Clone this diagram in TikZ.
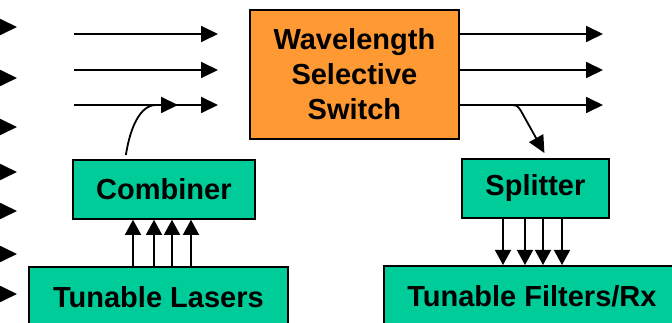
\documentclass[tikz,border=0pt]{standalone}
\usepackage{fontspec}
\setmainfont{Liberation Sans}
\usetikzlibrary{arrows.meta}
\definecolor{boxgreen}{HTML}{00CC99}
\definecolor{boxorange}{HTML}{FF9933}
\begin{document}
\begin{tikzpicture}[x=1pt,y=-1pt,
  box/.style={draw=black,line width=1.8pt,inner sep=0pt,anchor=north west,
    font=\fontsize{29}{35}\selectfont\bfseries,align=center},
  bigarrow/.style={line width=1.8pt,-{Triangle[length=17pt,width=16pt]}},
  smallarrow/.style={line width=1.4pt,-{Triangle[length=15pt,width=16pt]}}]
\useasboundingbox (0,0) rectangle (672,323);
\clip (0,0) rectangle (672,323);

% boxes
\node[box,fill=boxorange,minimum width=209pt,minimum height=129pt] (wss) at (249,9)
  {Wavelength\\Selective\\Switch};
\node[box,fill=boxgreen,minimum width=182pt,minimum height=59pt] (combiner) at (72,159) {Combiner};
\node[box,fill=boxgreen,minimum width=259pt,minimum height=60pt] (lasers) at (28,266) {Tunable Lasers};
\node[box,fill=boxgreen,minimum width=147pt,minimum height=59pt] (splitter) at (461,158) {Splitter};
\node[box,fill=boxgreen,minimum width=296pt,minimum height=60pt] (filters) at (383,265) {Tunable Filters/Rx};

% cut-off arrowheads at the left edge
\foreach \y [count=\i] in {27,78,127,172,211,254,294} {
  \coordinate (l\i a) at (-20,\y);
  \coordinate (l\i b) at (17,\y);
  \draw[bigarrow] (l\i a) -- (l\i b);
}

% input arrows
\foreach \y [count=\i] in {34,70,105} {
  \coordinate (in\i a) at (74,\y);
  \coordinate (in\i b) at (218,\y);
  \draw[bigarrow] (in\i a) -- (in\i b);
}

% output arrows
\foreach \y [count=\i] in {34,70,105} {
  \coordinate (out\i) at (603,\y);
  \draw[bigarrow] (wss.east |- out\i) -- (out\i);
}

% combiner to input line
\coordinate (cmid) at (178,105);
\draw[bigarrow] ([shift={(-38,-4)}]combiner.north) .. controls (130,128) and (140,105) .. (156,105) -- (cmid);

% output line to splitter
\coordinate (sp0) at (508,105);
\draw[bigarrow] (sp0) .. controls (517,105) .. (521,111) -- ([shift={(9,-5)}]splitter.north);

% lasers to combiner
\foreach \x in {133,154,172,191}
  \draw[smallarrow] (lasers.north -| \x,0) -- (combiner.south -| \x,0);

% splitter to filters
\foreach \x in {503,525,543,562}
  \draw[smallarrow] (splitter.south -| \x,0) -- (filters.north -| \x,0);
\end{tikzpicture}
\end{document}
